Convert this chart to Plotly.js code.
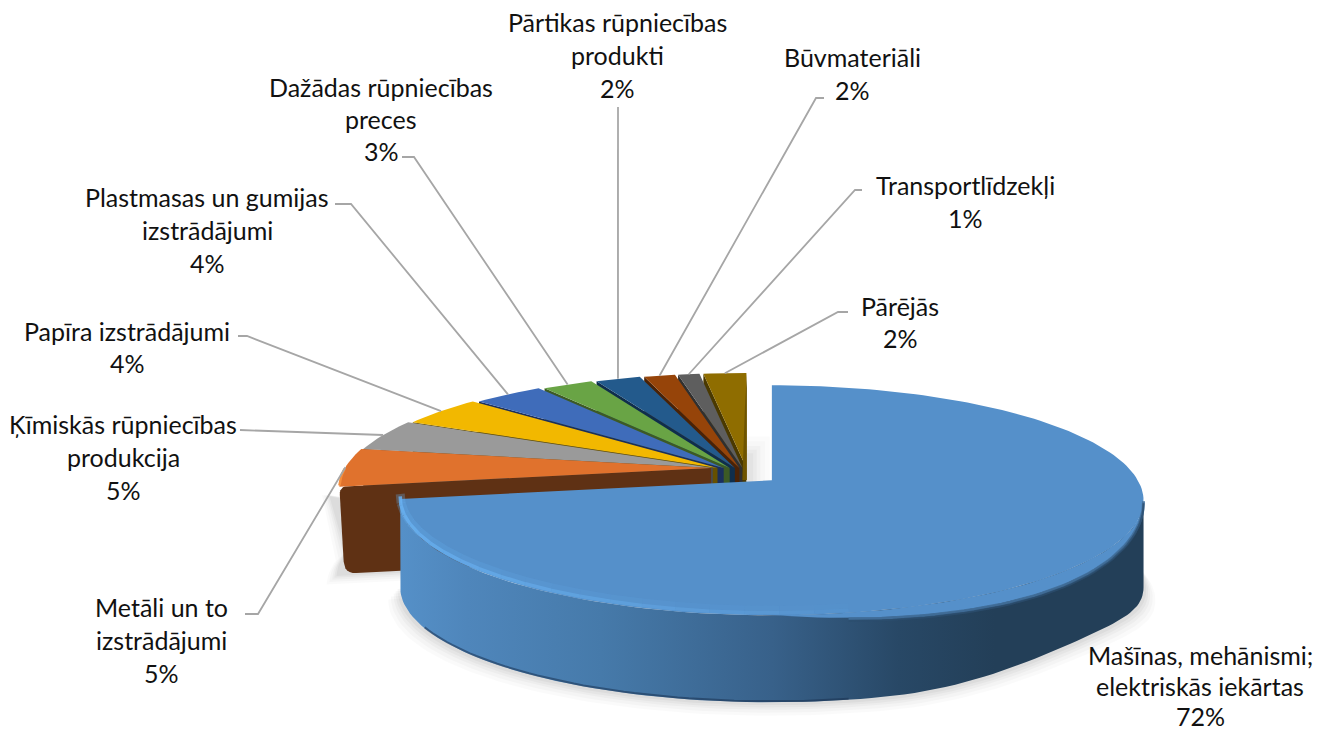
<!DOCTYPE html>
<html><head><meta charset="utf-8">
<script src="https://cdn.plot.ly/plotly-3.0.1.min.js"></script>
<style>html,body{margin:0;padding:0;background:#fff}</style></head>
<body><div id="chart" style="width:1325px;height:732px"></div>
<script>
// ---- data ----
const categories = ["Mašīnas, mehānismi;<br>elektriskās iekārtas","Metāli un to<br>izstrādājumi","Ķīmiskās rūpniecības<br>produkcija","Papīra izstrādājumi","Plastmasas un gumijas<br>izstrādājumi","Dažādas rūpniecības<br>preces","Pārtikas rūpniecības<br>produkti","Būvmateriāli","Transportlīdzekļi","Pārējās"];
const values = [72.4,5.4,4.5,4.3,3.6,2.6,2.3,1.6,1.1,2.2];
const topColors = ["#5590CA","#E0722D","#9A9A9A","#F2B800","#3F6CBA","#69A445","#235A8C","#964409","#5E5E5E","#8F6D00"];
const wallColors = ["#2A4A68","#5F3114","#4A4A4A","#665000","#1B2F5C","#3D5A25","#0F2E4C","#4A2206","#303030","#4A3900"];
// label placement in pixels: centre x, first line y, line step
const labelX = [1200,161,123,127,207,381,617,852,965,900];
const labelY = [655,607,424,331,197,87,22,57,185,306];
const lineStep = [30.5,33,33,32,33,32,33,33,33,32];
// leader elbows (from label side), the last point is computed on the slice rim
const leaderA = [null,[245,614],[240,430],[238,336],[335,204],[402,157],[618,107],[824,98],[862,190],[848,312]];
const leaderB = [null,[258,614],null,[247,336],[351,204],[414,157],null,[816,98],[855,190],[838,312]];

// ---- projection of the tilted disc ----
const R=366,H=111.5,K=0.174,T=87;
const rad=d=>d*Math.PI/180;
function rim(th,ax,ay){const u=Math.sin(rad(th)),v=Math.cos(rad(th)),w=1+K*v;return [ax+R*u/w,ay-H*v/w];}
function arc(a,b,ax,ay,dy=0){const n=Math.max(6,Math.ceil(Math.abs(b-a)/1.5)),p=[];
  for(let i=0;i<=n;i++){const th=a+(b-a)*i/n,q=rim(th,ax,ay),d=typeof dy==='function'?dy(th):dy;p.push([q[0],q[1]+d]);}return p;}
function rounded(pts,idx,r,n=6){ // rounds one polygon vertex
  const P=pts[idx],A=pts[(idx-1+pts.length)%pts.length],B=pts[(idx+1)%pts.length];
  const dA=Math.hypot(A[0]-P[0],A[1]-P[1]),dB=Math.hypot(B[0]-P[0],B[1]-P[1]);
  const s=[P[0]+(A[0]-P[0])*r/dA,P[1]+(A[1]-P[1])*r/dA],e=[P[0]+(B[0]-P[0])*r/dB,P[1]+(B[1]-P[1])*r/dB];
  const c=[];for(let i=0;i<=n;i++){const t=i/n,m=1-t;c.push([m*m*s[0]+2*m*t*P[0]+t*t*e[0],m*m*s[1]+2*m*t*P[1]+t*t*e[1]]);}
  return pts.slice(0,idx).concat(c,pts.slice(idx+1));
}
const traces=[];
function poly(pts,fill,extra={}){traces.push(Object.assign({type:'scatter',mode:'lines',x:pts.map(p=>p[0]).concat(pts[0][0]),y:pts.map(p=>p[1]).concat(pts[0][1]),fill:'toself',fillcolor:fill,line:{width:0,color:fill},hoverinfo:'skip',showlegend:false},extra));}
function line(pts,color,width){traces.push({type:'scatter',mode:'lines',x:pts.map(p=>p[0]),y:pts.map(p=>p[1]),line:{color,width},hoverinfo:'skip',showlegend:false});}
// rounded edge profile on the right front: the top face reaches lower and the foot sits higher
const topBulge=th=>(th>100&&th<180)?13*Math.sin(Math.PI*(th-100)/80):0;
const footDy=th=>{const s=(th>100&&th<165)?Math.sin(Math.PI*(th-100)/65):0;return T-12*s*s;};

// slice geometry
const total=values.reduce((s,v)=>s+v,0);
let acc=0;const slices=values.map((v,i)=>{const a=acc/total*360;acc+=v;const b=acc/total*360,mid=(a+b)/2;
  const sm=Math.sin(rad(mid)),cm=Math.cos(rad(mid));
  const ax=749+sm*(sm>0?30:38),ay=468+Math.max(0,-cm)*19;
  return {i,a,b,mid,ax,ay};});

// soft ground shadow
const blue=slices[0],orange=slices[1],gold=slices[slices.length-1];
[[18,.018],[14,.022],[10,.028],[7,.032],[4,.036]].forEach(([s,al])=>{
  const sx=1+s/R*0.65;
  const ob=arc(orange.a,orange.a+12,orange.ax,orange.ay,T);
  poly([[orange.ax,orange.ay+T+s*0.6]].concat(ob.map(p=>[orange.ax+(p[0]-orange.ax)*(1+s/R*0.7),p[1]+s*0.6]),[[orange.ax-390-s*0.5+10,orange.ay+T-60]]),`rgba(0,0,0,${al})`);
  const b=arc(60,blue.b,blue.ax,blue.ay,footDy).map(p=>[blue.ax+(p[0]-blue.ax)*sx,p[1]+s*0.75]);
  poly(b.concat([[blue.ax,blue.ay+T]]),`rgba(0,0,0,${al})`);
  const r=s*1.2;
  poly([[gold.ax,gold.ay-r-10],[gold.ax+r+2,gold.ay-r-10],[gold.ax+r+2,gold.ay+14],[gold.ax,gold.ay+14]],`rgba(0,0,0,${al*0.8})`);
});

// back slices, far to near
for(let k=slices.length-1;k>=1;k--){const s=slices[k];
  const st=rim(s.a,s.ax,s.ay);
  let wall=[[s.ax,s.ay],st,[st[0],st[1]+T-3],[s.ax,s.ay+T]];
  if(k===1){wall=[[s.ax,s.ay],[st[0],st[1]],[st[0]+5,st[1]+T],[s.ax,s.ay+T]];wall=rounded(wall,2,12);wall=rounded(wall,1,8);}
  poly(wall,wallColors[k]);
  poly([[s.ax,s.ay]].concat(arc(s.a,s.b,s.ax,s.ay)),topColors[k]);
}
// darker sliver on the right of the last slice
{const e=rim(gold.b,gold.ax,gold.ay);
 poly([[e[0]+0.5,e[1]],[e[0]+0.5,gold.ay+12],[e[0]-4,gold.ay+12],[e[0]-1.5,gold.ay-60]],'#6E5400');}
// orange bevel on the outer rim
line(arc(orange.a+0.6,orange.a+9,orange.ax,orange.ay),'#F58D3C',2.5);

// main slice: wall with horizontal shading, then top
const wallPts=arc(100,blue.b,blue.ax,blue.ay).concat(arc(blue.b,100,blue.ax,blue.ay,footDy));
poly(wallPts,wallColors[0],{fillgradient:{type:'horizontal',colorscale:[[0,'#5590C8'],[0.09,'#4F86BB'],[0.27,'#467AAA'],[0.5,'#38618A'],[0.67,'#284866'],[0.8,'#233F58'],[1,'#233F58']]}});
line(arc(170,240,blue.ax,blue.ay,T-1),'rgba(25,50,80,0.55)',2);
poly([[blue.ax,blue.ay]].concat(arc(blue.a,blue.b,blue.ax,blue.ay)),topColors[0]);
// top colour running over the rounded right front edge
poly(arc(100,180,blue.ax,blue.ay).concat(arc(180,100,blue.ax,blue.ay,topBulge)),topColors[0]);

// bevel along the near rim: bright at the left, fading out to the right
const bevelFrom=blue.b,bevelTo=170,steps=20;
for(let i=0;i<steps;i++){
  const t0=i/steps,t1=(i+1)/steps,al=Math.pow(1-t0,0.8);
  const a0=bevelFrom+(bevelTo-bevelFrom)*t0,a1=bevelFrom+(bevelTo-bevelFrom)*t1;
  line(arc(a0,a1,blue.ax,blue.ay-5),`rgba(102,174,238,${(al*0.3).toFixed(3)})`,9);
  line(arc(a0,a1,blue.ax,blue.ay-2.5),`rgba(106,178,242,${(al*0.85).toFixed(3)})`,3.5);
}
// soft edge between the top and the dark wall on the right
const edge=d=>th=>topBulge(th)+d;
line(arc(100,170,blue.ax,blue.ay,edge(1)),'rgba(66,112,156,0.9)',3);
line(arc(100,170,blue.ax,blue.ay,edge(3)),'rgba(44,78,110,0.8)',2);

// leader lines
const lx=[],ly=[];
slices.forEach((s,i)=>{if(!leaderA[i])return;
  const r=rim(s.mid,s.ax,s.ay);
  [leaderA[i],leaderB[i],r].forEach(p=>{if(p){lx.push(p[0]);ly.push(p[1]);}});
  lx.push(null);ly.push(null);});
traces.push({type:'scatter',mode:'lines',x:lx,y:ly,connectgaps:false,line:{color:'#A6A6A6',width:1.8},hoverinfo:'skip',showlegend:false});

// labels: one annotation per line, so the line pitch can follow the reference
const annotations=[];
const font={family:'Lato, Carlito, sans-serif',size:25,color:'#111111'};
categories.forEach((c,i)=>{
  const lines=c.split('<br>').concat(Math.round(values[i]/total*100)+'%');
  lines.forEach((t,j)=>annotations.push({xref:'x',yref:'y',x:labelX[i],y:labelY[i]+j*lineStep[i],text:t,showarrow:false,xanchor:'center',yanchor:'middle',font}));
});

Plotly.newPlot('chart',traces,{
  width:1325,height:732,margin:{l:0,r:0,t:0,b:0},paper_bgcolor:'#fff',plot_bgcolor:'#fff',showlegend:false,hovermode:false,
  xaxis:{range:[0,1325],visible:false,fixedrange:true},
  yaxis:{range:[732,0],visible:false,fixedrange:true},
  annotations
},{displayModeBar:false,staticPlot:true});
</script></body></html>
